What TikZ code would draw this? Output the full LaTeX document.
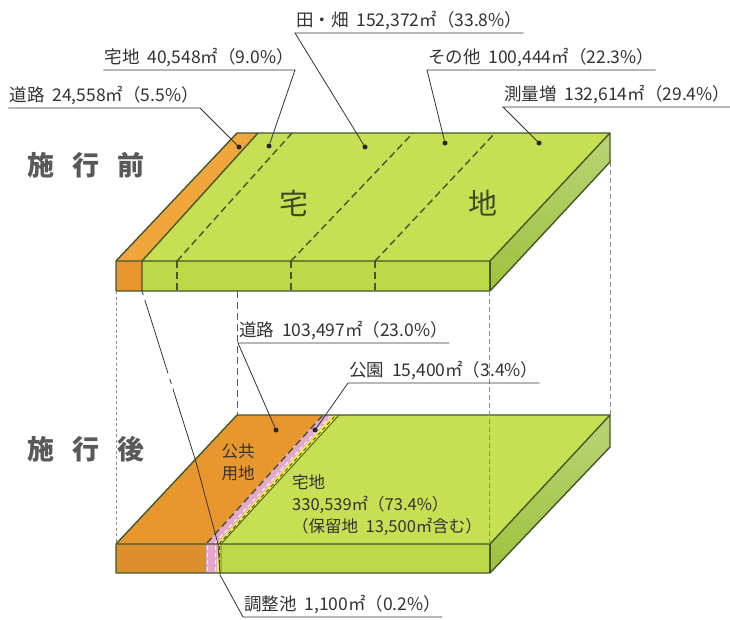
\documentclass[tikz,border=0pt]{standalone}
\usepackage{fontspec}
\setmainfont{Noto Sans CJK JP}[WordSpace = 2]
\definecolor{leafTop}{HTML}{C7DF52}
\definecolor{leafFront}{HTML}{BDD948}
\definecolor{leafSide}{HTML}{9CC23C}
\definecolor{roadTop}{HTML}{F1A63C}
\definecolor{roadFront}{HTML}{E8972F}
\definecolor{parkPink}{HTML}{E5A8CD}
\definecolor{pondYellow}{HTML}{F3EE3C}
\definecolor{edgeGreen}{HTML}{45572A}
\definecolor{inkGray}{HTML}{333333}
\definecolor{guideGray}{HTML}{8C8C8C}

\begin{document}
\begin{tikzpicture}[x = 1pt, y = -1pt]
\tikzstyle{edgeStyle}=[draw = edgeGreen, line width = 1.4pt, line join = round]
\tikzstyle{divStyle}=[draw = edgeGreen, line width = 1.4pt, dash pattern = on 7pt off 4pt]
\tikzstyle{whiteDivStyle}=[draw = white, line width = 1pt, dash pattern = on 4pt off 3pt]
\tikzstyle{guideStyle}=[draw = guideGray, line width = 0.7pt, dash pattern = on 5pt off 3pt]
\tikzstyle{leaderStyle}=[draw = inkGray, line width = 0.8pt]
\tikzstyle{dotStyle}=[shape = circle, minimum size = 5pt, inner sep = 0pt, fill = black!85]
\tikzstyle{labelStyle}=[inner xsep = 1pt, inner ysep = 3pt, font = \fontsize{17.5}{20}\selectfont, text = inkGray]
\tikzstyle{titleStyle}=[inner sep = 0pt, font = \fontsize{27}{30}\selectfont\bfseries, text = black!65]
\tikzstyle{areaStyle}=[inner sep = 0pt, font = \fontsize{16.5}{22}\selectfont, text = inkGray, align = left]
\tikzstyle{bigStyle}=[inner sep = 0pt, font = \fontsize{29}{30}\selectfont, text = edgeGreen!85!black]
\useasboundingbox[fill = white] (0,0) rectangle (730,619);
\fill[leafTop] (142,261) -- (490,261) -- (610,133) -- (258,133) -- cycle;
\fill[roadTop] (116,261) -- (142,261) -- (258,133) -- (237,133) -- cycle;
\fill[leafFront] (142,261) rectangle (490,291);
\fill[roadFront] (116,261) rectangle (142,291);
\shade[top color = leafSide!70!white, bottom color = leafSide] (490,261) -- (610,133) -- (610,162) -- (490,291) -- cycle;
\draw[divStyle] (177,261) -- (292,133);
\draw[divStyle] (291,261) -- (413,133);
\draw[divStyle] (375,261) -- (495,133);
\draw[divStyle] (177,261) -- (177,291);
\draw[divStyle] (291,261) -- (291,291);
\draw[divStyle] (375,261) -- (375,291);
\draw[edgeStyle] (116,261) -- (237,133) -- (610,133) -- (610,162) -- (490,291) -- (116,291) -- cycle;
\draw[edgeStyle] (116,261) -- (490,261) -- (610,133);
\draw[edgeStyle] (490,261) -- (490,291);
\draw[edgeStyle] (142,291) -- (142,261) -- (258,133);
\fill[leafTop] (221,544) -- (490,544) -- (610,415) -- (339,415) -- cycle;
\fill[roadFront] (116,544) -- (206,544) -- (322,415) -- (237,415) -- cycle;
\fill[parkPink] (206,544) -- (217,544) -- (333,415) -- (322,415) -- cycle;
\fill[pondYellow] (217,544) -- (221,544) -- (339,415) -- (333,415) -- cycle;
\fill[roadFront!95!black] (116,544) rectangle (206,573);
\fill[parkPink] (206,544) rectangle (217,573);
\fill[pondYellow] (217,544) rectangle (221,573);
\fill[leafFront] (221,544) rectangle (490,573);
\shade[top color = leafSide!70!white, bottom color = leafSide] (490,544) -- (610,415) -- (610,447) -- (490,573) -- cycle;
\draw[divStyle] (207,543) -- (323,415);
\draw[whiteDivStyle] (215,543) -- (331,415);
\draw[divStyle, line width = 0.9pt, dash pattern = on 4pt off 3pt] (219,544) -- (336,415);
\draw[whiteDivStyle] (207.5,546) -- (207.5,572);
\draw[whiteDivStyle] (215.5,546) -- (215.5,572);
\draw[divStyle, line width = 0.9pt, dash pattern = on 4pt off 3pt] (219,546) -- (219,572);
\draw[edgeStyle, line width = 0.9pt] (221,573) -- (221,544) -- (339,415);
\draw[edgeStyle] (116,544) -- (237,415) -- (610,415) -- (610,447) -- (490,573) -- (116,573) -- cycle;
\draw[edgeStyle] (116,544) -- (490,544) -- (610,415);
\draw[edgeStyle] (490,544) -- (490,573);
\draw[guideStyle, dash pattern = on 3pt off 2.5pt, line width = 0.6pt] (116,291) -- (116,544);
\draw[guideStyle, draw = black!65, line width = 1pt, dash pattern = on 7pt off 4pt] (237,291) -- (237,415);
\draw[guideStyle] (489,291) -- (489,544);
\draw[guideStyle] (610,162) -- (610,415);
\node[titleStyle] (before) at (86,165) {施\hspace{18pt}行\hspace{18pt}前};
\node[titleStyle] (after) at (86,449) {施\hspace{18pt}行\hspace{18pt}後};
\node[bigStyle] (big0) at (294,203) {宅};
\node[bigStyle] (big1) at (483,203) {地};
\node[areaStyle, align = center] (pub) at (238,462) {公共\\用地};
\node[areaStyle, anchor = west] (res) at (292,505) {宅地\\330,539㎡（73.4\%）\\（保留地 13,500㎡含む）};
\node[dotStyle] (d0) at (239,147) {};
\node[dotStyle] (d1) at (269,146) {};
\node[dotStyle] (d2) at (365,147) {};
\node[dotStyle] (d3) at (445,143) {};
\node[dotStyle] (d4) at (539,143) {};
\node[dotStyle] (d5) at (276,430) {};
\node[dotStyle] (d6) at (315,430) {};
\node[labelStyle, anchor = south east] (l0) at (200,108) {道路 24,558㎡（5.5\%）};
\node[labelStyle, anchor = south east] (l1) at (295,70) {宅地 40,548㎡（9.0\%）};
\node[labelStyle, anchor = south west] (l2) at (295,33) {田・畑 152,372㎡（33.8\%）};
\node[labelStyle, anchor = south west] (l3) at (427,70) {その他 100,444㎡（22.3\%）};
\node[labelStyle, anchor = south west] (l4) at (503,107) {測量増 132,614㎡（29.4\%）};
\node[labelStyle, anchor = south west] (l5) at (238,343) {道路 103,497㎡（23.0\%）};
\node[labelStyle, anchor = south west] (l6) at (348,383) {公園 15,400㎡（3.4\%）};
\node[labelStyle, anchor = south west] (l7) at (243,617) {調整池 1,100㎡（0.2\%）};
\coordinate (p0) at (142,291);
\coordinate (p1) at (196,462);
\coordinate (p2) at (218,544);
\coordinate (p3) at (220,575);
\draw[leaderStyle] (l0.south west) -- (l0.south east) -- (d0);
\draw[leaderStyle] (l1.south west) -- (l1.south east) -- (d1);
\draw[leaderStyle] (l2.south east) -- (l2.south west) -- (d2);
\draw[leaderStyle] (l3.south east) -- (l3.south west) -- (d3);
\draw[leaderStyle] (l4.south east) -- (l4.south west) -- (d4);
\draw[leaderStyle] (l5.south east) -- (l5.south west) -- (d5);
\draw[leaderStyle] (l6.south east) -- (l6.south west) -- (d6);
\draw[leaderStyle] (l7.south east) -- (l7.south west) -- (p3) -- (p2) -- (p1);
\draw[leaderStyle, dash pattern = on 77pt off 5pt on 5pt off 6pt] (p1) -- (p0);
\end{tikzpicture}
\end{document}
